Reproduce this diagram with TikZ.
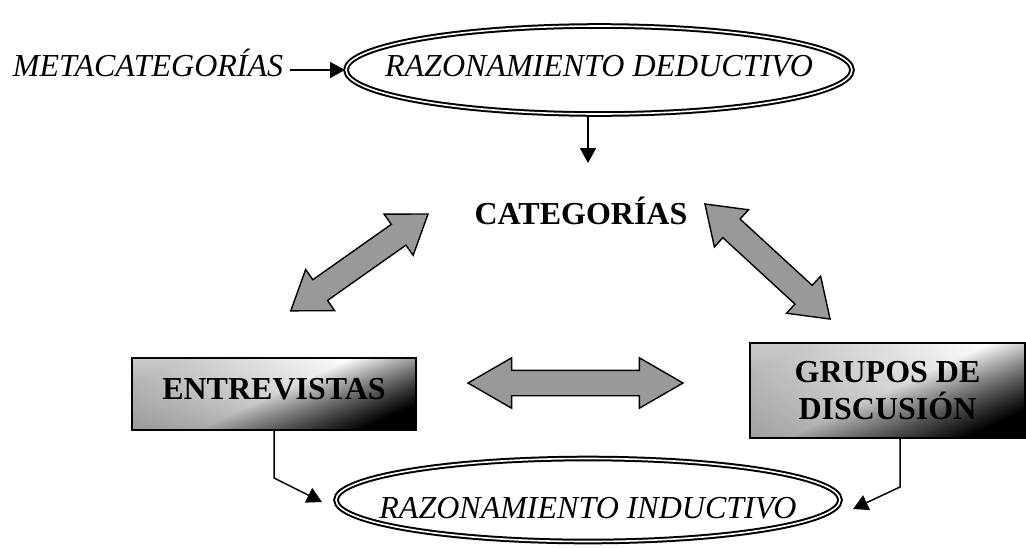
\documentclass[tikz,border=0pt]{standalone}
\usepackage{fontspec}
\setmainfont{Liberation Serif}
\usetikzlibrary{arrows.meta,positioning,shapes.geometric,shapes.arrows,fadings}
\newcommand{\letra}{\fontsize{16}{18.5}\selectfont}
\tikzset{
  razon/.style={ellipse,draw,double,line width=1pt,double distance=0.8pt,inner sep=0pt,font=\letra\itshape},
  caja/.style={rectangle,draw,line width=0.75pt,top color=gray!40,bottom color=black,middle color=white,shading angle=25,font=\letra\bfseries,inner sep=0pt,
    path picture={\fill[black,opacity=0.35,path fading=north] (path picture bounding box.south west) rectangle (path picture bounding box.north east);}},
  flecha/.style={double arrow,draw,line width=0.7pt,fill=gray!80,inner xsep=0pt,inner ysep=6pt,minimum width=24.5pt,double arrow head extend=6.25pt},
  conector/.style={line width=0.75pt,-{Triangle[length=7.5pt,width=8pt]}},
  txt/.style={text height=10.6pt,text depth=0pt}
}
\begin{document}
\begin{tikzpicture}[x=0.5pt,y=-0.5pt]
    \useasboundingbox (0,0) rectangle (1026,547);
    % texts and ellipses
    \node[txt,font=\letra\itshape] (meta) at (148,66) {METACATEGORÍAS};
    \node[razon,minimum width=253pt,minimum height=44pt,text height=10.6pt,text depth=4.5pt] (deduc) at (599,70) {\makebox[0pt]{RAZONAMIENTO DEDUCTIVO}};
    \node[txt,font=\letra\bfseries] (cat) at (581,214) {CATEGORÍAS};
    \node[razon,minimum width=252pt,minimum height=41.5pt,text height=18.6pt,text depth=0pt] (induc) at (588,500) {\makebox[0pt]{RAZONAMIENTO INDUCTIVO}};

    % shaded boxes
    \node[caja,minimum width=142pt,minimum height=36pt,text height=10.6pt,text depth=5pt] (entrev) at (274,394) {ENTREVISTAS};
    \node[caja,minimum width=137.5pt,minimum height=47.5pt,align=center] (grupos) at (887.5,390.5) {GRUPOS DE\\DISCUSIÓN};

    % block double arrows
    \node[flecha,minimum height=84pt,rotate=35.2,double arrow tip angle=70] (flechaCE) at (359.4,262.4) {};
    \node[flecha,minimum height=85pt,rotate=-42.6,double arrow tip angle=70] (flechaCG) at (767.5,261.5) {};
    \node[flecha,minimum height=107.5pt,double arrow tip angle=60] (flechaEG) at (575.5,383) {};

    % thin connectors
    \coordinate (bajada) at (588,163);
    \coordinate (codoI) at (274,478);
    \coordinate (puntaI) at (322,502);
    \coordinate (codoD) at (900,487);
    \coordinate (puntaD) at (853,509);
    \draw[conector] (meta.east |- deduc.west) -- (deduc.west);
    \draw[conector] (bajada |- deduc.south) -- (bajada);
    \draw[conector] (entrev.south) -- (codoI) -- (puntaI);
    \draw[conector] (codoD |- grupos.south) -- (codoD) -- (puntaD);
\end{tikzpicture}
\end{document}
